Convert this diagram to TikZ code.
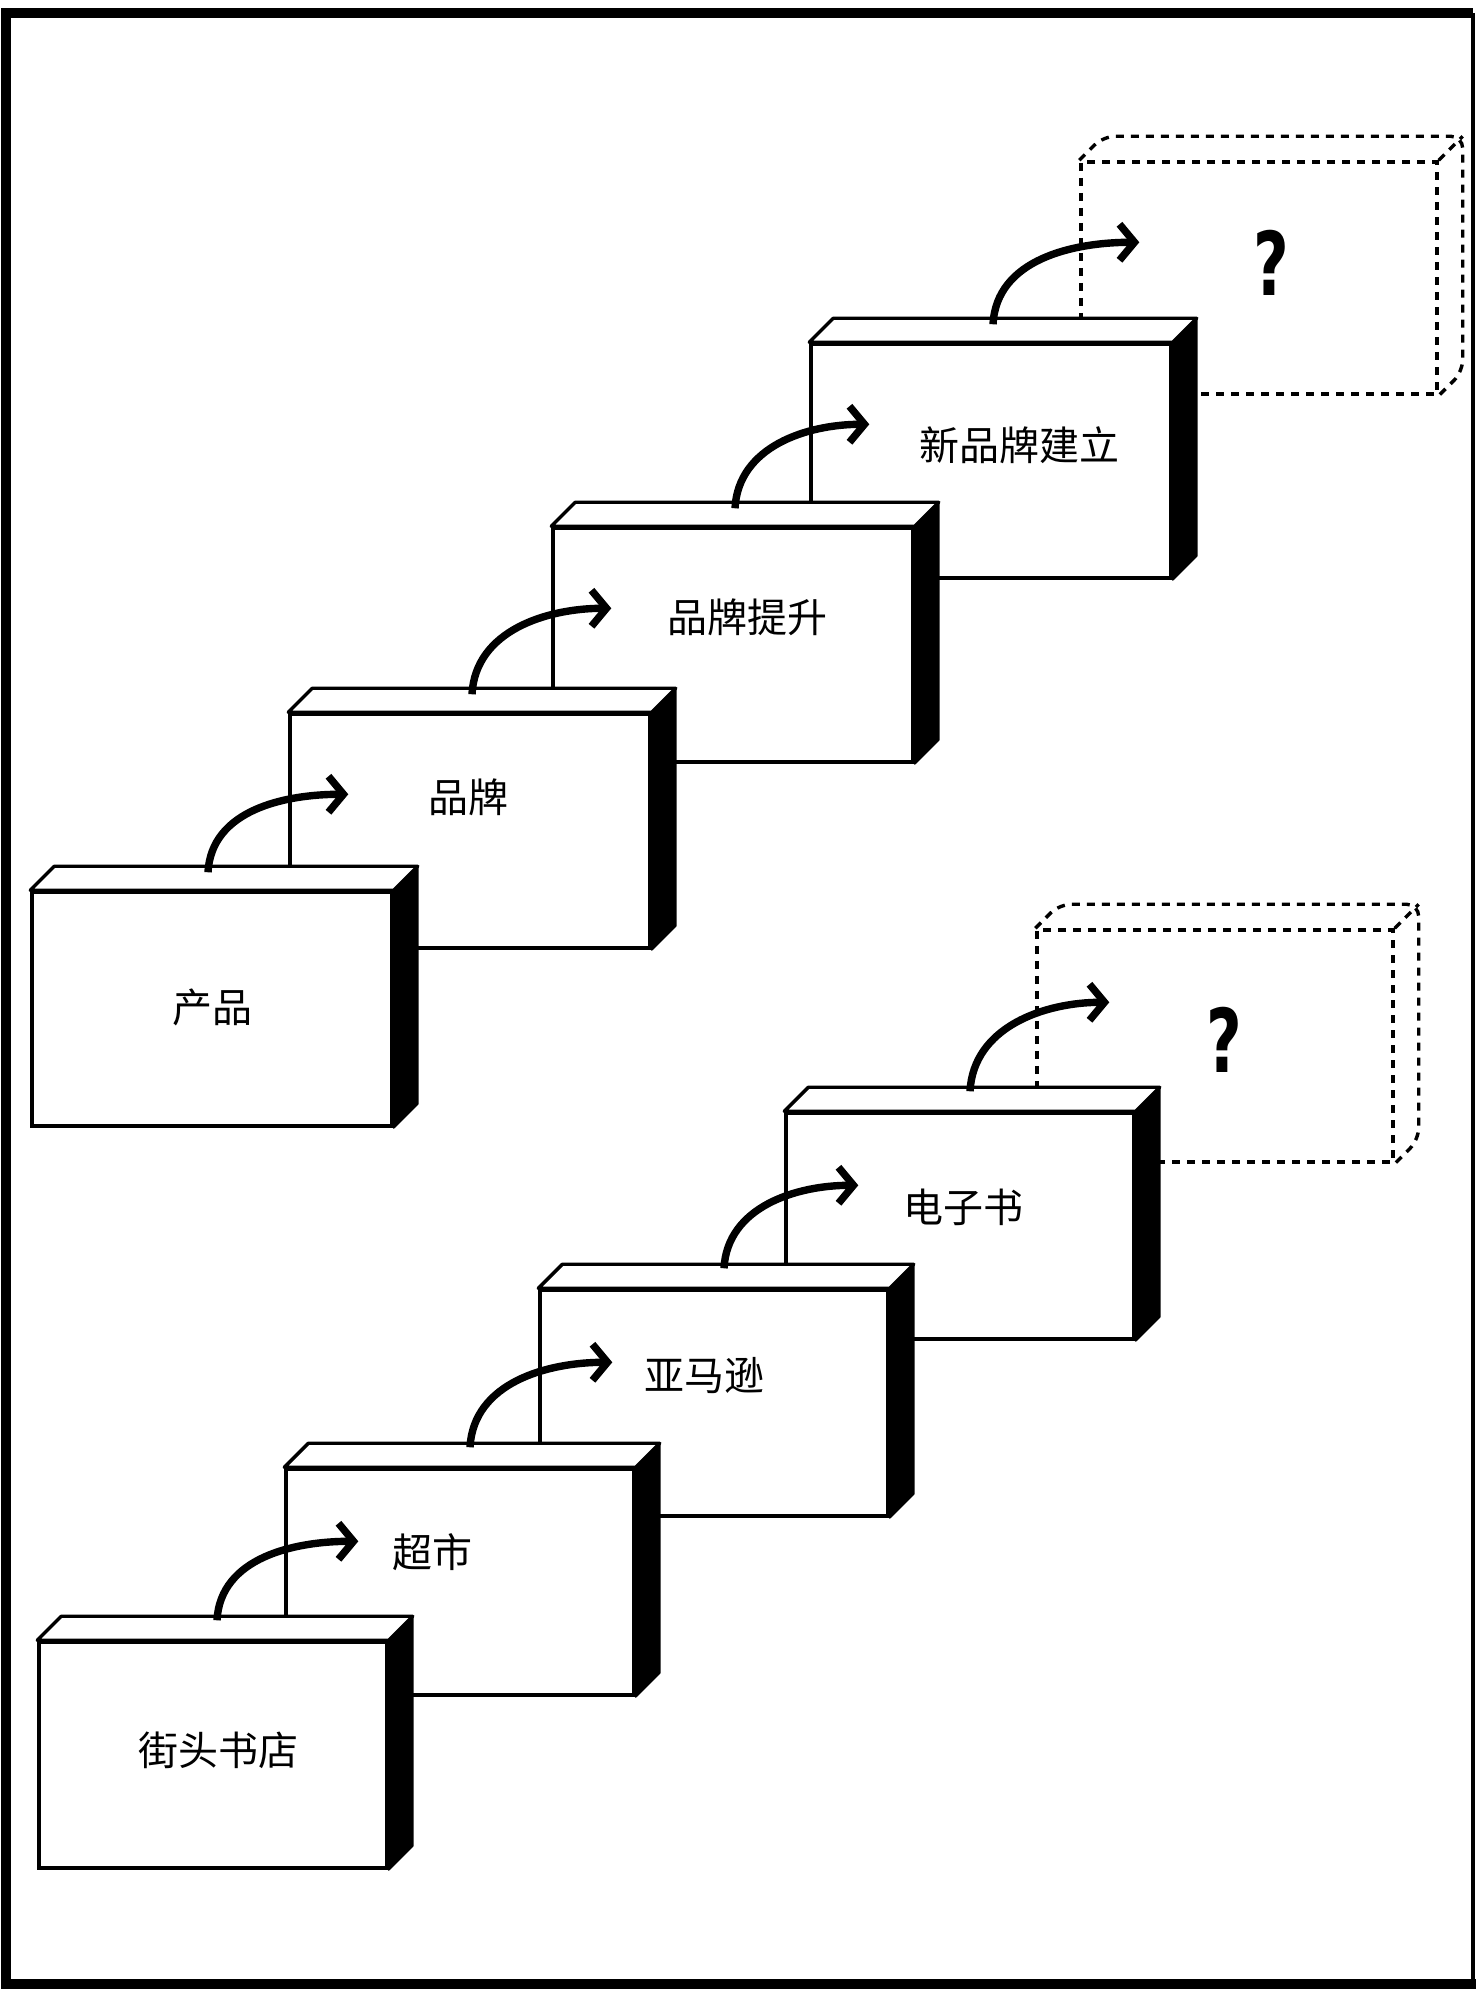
\documentclass[tikz,border=0pt]{standalone}
\usepackage{fontspec}
\newfontfamily\cjk{Noto Sans CJK SC}
\newfontfamily\qfont{DejaVu Sans}
\usetikzlibrary{arrows.meta}
\usetikzlibrary{calc}
\tikzstyle{stage}=[draw,line width=1.7pt,fill=white,inner sep=0pt]
\tikzstyle{upper}=[stage,minimum width=180pt,minimum height=117pt]
\tikzstyle{lower}=[stage,minimum width=174pt,minimum height=113pt]
\tikzstyle{ghost}=[line width=1.7pt,dash pattern=on 4pt off 3.5pt]
\tikzstyle{ghostbox}=[draw,ghost,inner sep=0pt]
\tikzstyle{face}=[line width=1.7pt,fill=white,line join=round]
\tikzstyle{side}=[line width=1pt,fill=black,line join=round]
\tikzstyle{lbl}=[font=\cjk\fontsize{20}{24}\selectfont,inner sep=0pt]
\tikzstyle{qmark}=[font=\qfont\bfseries\fontsize{44}{48}\selectfont,inner sep=0pt]
\tikzstyle{jump}=[line width=3.7pt,-{Straight Barb[length=7.5pt,width=18pt]}]
\newcommand\crate[1]{%
  \draw[face] (#1.north west) -- ($(#1.north west)+(12pt,12pt)$) -- ($(#1.north east)+(12pt,12pt)$) -- (#1.north east) -- cycle;
  \filldraw[side] (#1.north east) -- ($(#1.north east)+(12pt,12pt)$) -- ($(#1.south east)+(12pt,12pt)$) -- (#1.south east) -- cycle;
}
\newcommand\ghostcrate[1]{%
  \draw[ghost,rounded corners=6pt] (#1.north west) -- ($(#1.north west)+(12pt,12pt)$) -- ($(#1.north east)+(12pt,12pt)$) -- ($(#1.south east)+(12pt,12pt)$) -- (#1.south east);
  \draw[ghost] (#1.north east) -- ($(#1.north east)+(12pt,12pt)$);
}

\begin{document}
\begin{tikzpicture}[x=0.5pt,y=0.5pt]
	\useasboundingbox (0,0) rectangle (1476,2001);
	\draw[line width=5pt] (1473,1988) -- (6,1988) -- (6,17) -- (1476,17);
	\draw[line width=2pt] (1473,1988) -- (1473,17);
	%
	\node[ghostbox,minimum width=178pt,minimum height=116pt] (a5) at (1259,1723) {};
	\ghostcrate{a5}
	\node[upper] (a4) at (991,1540) {};
	\crate{a4}
	\node[upper] (a3) at (733,1356) {};
	\crate{a3}
	\node[upper] (a2) at (470,1170) {};
	\crate{a2}
	\node[upper] (a1) at (212,992) {};
	\crate{a1}
	%
	\node[ghostbox,minimum width=178pt,minimum height=116pt] (b5) at (1215,955) {};
	\ghostcrate{b5}
	\node[lower] (b4) at (960,775) {};
	\crate{b4}
	\node[lower] (b3) at (714,598) {};
	\crate{b3}
	\node[lower] (b2) at (460,419) {};
	\crate{b2}
	\node[lower] (b1) at (213,246) {};
	\crate{b1}
	%
	\node[lbl] (t-a1) at (212,994) {产品};
	\node[lbl] (t-a2) at (468,1204) {品牌};
	\node[lbl] (t-a3) at (747,1384) {品牌提升};
	\node[lbl] (t-a4) at (1019,1556) {新品牌建立};
	\node[qmark] (t-a5) at (1271,1738) {\scalebox{0.7}[1]{?}};
	\node[lbl] (t-b1) at (218,251) {街头书店};
	\node[lbl] (t-b2) at (432,449) {超市};
	\node[lbl] (t-b3) at (704,625) {亚马逊};
	\node[lbl] (t-b4) at (963,794) {电子书};
	\node[qmark] (t-b5) at (1224,961) {\scalebox{0.7}[1]{?}};
	%
	\draw[jump] ($(a1.north)+(-2pt,9pt)$) to[out=87,in=180] ($(a2.north west)+(30pt,-41pt)$);
	\draw[jump] ($(a2.north)+(1pt,9pt)$) to[out=87,in=180] ($(a3.north west)+(30pt,-41pt)$);
	\draw[jump] ($(a3.north)+(1pt,9pt)$) to[out=87,in=180] ($(a4.north west)+(30pt,-41pt)$);
	\draw[jump] ($(a4.north)+(1pt,9pt)$) to[out=87,in=180] ($(a5.north west)+(30pt,-41pt)$);
	\draw[jump] ($(b1.north)+(2pt,10pt)$) to[out=87,in=180] ($(b2.north west)+(37pt,-37pt)$);
	\draw[jump] ($(b2.north)+(5pt,10pt)$) to[out=87,in=180] ($(b3.north west)+(37pt,-37pt)$);
	\draw[jump] ($(b3.north)+(5pt,10pt)$) to[out=87,in=180] ($(b4.north west)+(37pt,-37pt)$);
	\draw[jump] ($(b4.north)+(5pt,10pt)$) to[out=87,in=180] ($(b5.north west)+(37pt,-37pt)$);
\end{tikzpicture}
\end{document}
